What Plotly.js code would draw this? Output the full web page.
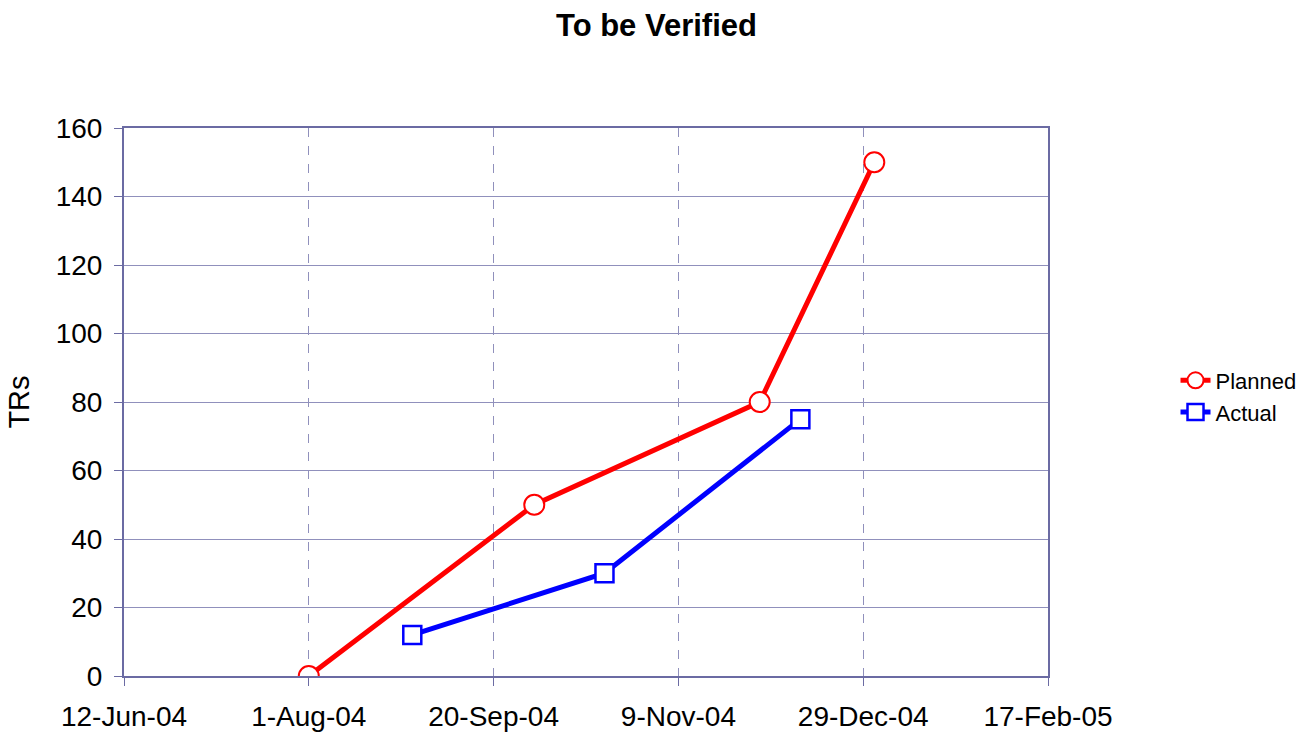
<!DOCTYPE html>
<html>
<head>
<meta charset="utf-8">
<script src="https://cdn.plot.ly/plotly-3.0.1.min.js"></script>
<style>html,body{margin:0;padding:0;background:#fff;}#chart{width:1313px;height:732px;}</style>
</head>
<body>
<div id="chart"></div>
<script>
const plannedDates = ['2004-08-01', '2004-10-01', '2004-12-01', '2005-01-01'];
const plannedValues = [0, 50, 80, 150];
const actualDates = ['2004-08-29', '2004-10-20', '2004-12-12'];
const actualValues = [12, 30, 75];
const xRange = ['2004-06-12', '2005-02-17'];
const yRange = [0, 160];

const axisColor = '#6B6BA3';
const gridColor = '#9090BC';
const font = 'Arial, "Liberation Sans", sans-serif';

const traces = [
  {
    x: plannedDates, y: plannedValues, name: 'Planned', type: 'scatter', mode: 'lines+markers',
    line: {color: '#FF0000', width: 5},
    marker: {symbol: 'circle', size: 20, color: '#FFFFFF', line: {color: '#FF0000', width: 2}}
  },
  {
    x: actualDates, y: actualValues, name: 'Actual', type: 'scatter', mode: 'lines+markers',
    line: {color: '#0000FF', width: 5},
    marker: {symbol: 'square', size: 18, color: '#FFFFFF', line: {color: '#0000FF', width: 2.5}}
  }
];

const layout = {
  width: 1313, height: 732,
  margin: {l: 124, r: 265, t: 128, b: 56, pad: 0},
  paper_bgcolor: '#FFFFFF', plot_bgcolor: '#FFFFFF',
  font: {family: font, color: '#000000', size: 24},
  title: {text: '<b>To be Verified</b>', font: {family: font, size: 31, color: '#000'}, x: 0.5, xanchor: 'center', y: 0.966, yanchor: 'middle', yref: 'container'},
  xaxis: {
    type: 'date', range: xRange, tick0: xRange[0], dtick: 50 * 86400000,
    tickformat: '%-d-%b-%y', tickfont: {size: 28}, ticklabelstandoff: 6,
    showgrid: true, gridcolor: gridColor, griddash: 'dash', gridwidth: 1,
    showline: true, linecolor: axisColor, linewidth: 2, mirror: true,
    ticks: 'outside', ticklen: 8, tickcolor: axisColor, tickwidth: 1,
    zeroline: false, fixedrange: true
  },
  yaxis: {
    range: yRange, dtick: 20, tickfont: {size: 28}, ticklabelstandoff: 6,
    title: {text: 'TRs', font: {size: 29}, standoff: 18},
    showgrid: true, gridcolor: gridColor, gridwidth: 1,
    showline: true, linecolor: axisColor, linewidth: 2, mirror: true,
    ticks: 'outside', ticklen: 8, tickcolor: axisColor, tickwidth: 1,
    zeroline: false, fixedrange: true
  },
  legend: {x: 1.138, xanchor: 'left', y: 0.51, yanchor: 'middle', font: {size: 22}, bgcolor: 'rgba(0,0,0,0)', tracegroupgap: 0, itemwidth: 30},
  showlegend: true
};

Plotly.newPlot('chart', traces, layout, {displayModeBar: false, staticPlot: true});
</script>
</body>
</html>
